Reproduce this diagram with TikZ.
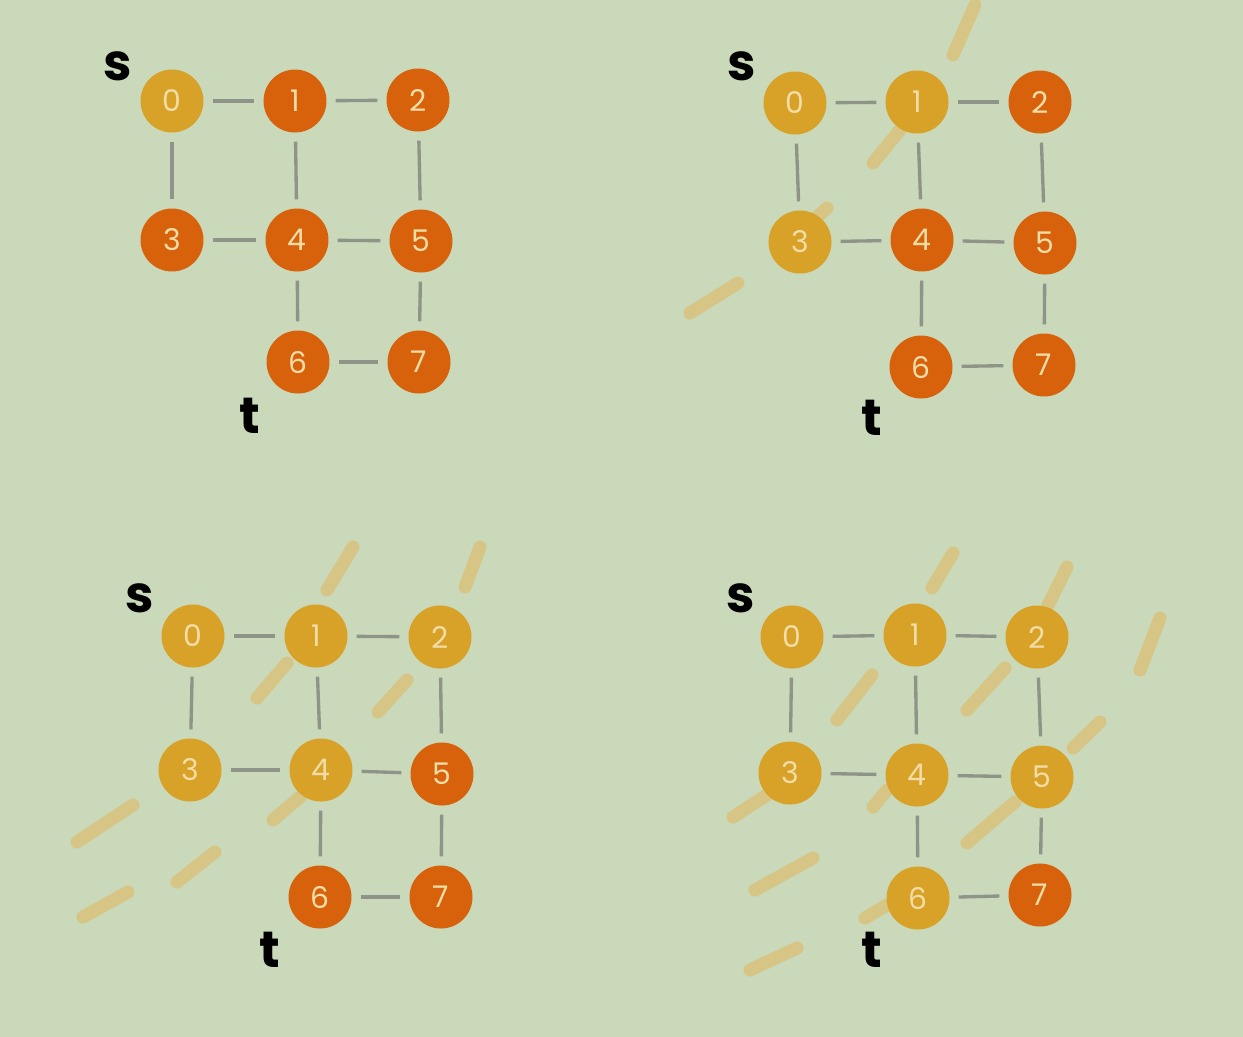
\documentclass[tikz,border=0pt]{standalone}
\usepackage{fontspec}
\setmainfont{Poppins}
\usetikzlibrary{positioning}

\definecolor{bgsage}{HTML}{C9D9BA}
\definecolor{visited}{HTML}{D8A128}
\definecolor{unvisited}{HTML}{D8620C}
\definecolor{digit}{HTML}{F2DDA6}
\definecolor{edgegray}{HTML}{8E9588}
\definecolor{brush}{HTML}{D6C584}

\tikzset{
  vert/.style={circle, minimum size=1.26cm, inner sep=0pt, text=digit, font=\fontsize{17}{17}\selectfont},
  seen/.style={vert, fill=visited},
  unseen/.style={vert, fill=unvisited},
  link/.style={draw=edgegray, line width=1.9pt, shorten >=5pt, shorten <=5pt},
  endlabel/.style={font=\fontsize{29}{29}\selectfont\bfseries, text=black},
  swash/.style={draw=brush, line width=0.26cm, line cap=round}
}

\begin{document}
\begin{tikzpicture}[x=0.02cm, y=-0.02cm]

\useasboundingbox (0,0) rectangle (1243,1036);
\fill[bgsage] (-5,-5) rectangle (1248,1041);

% brush marks
\draw [swash] (975,5) -- (953,55);
\draw [swash] (900,130) -- (873,163);
\draw [swash] (827,208) -- (817,217);
\draw [swash] (738,283) -- (690,313);
\draw [swash] (353,547) -- (327,590);
\draw [swash] (480,547) -- (465,587);
\draw [swash] (287,663) -- (257,698);
\draw [swash] (407,680) -- (378,712);
\draw [swash] (133,805) -- (77,842);
\draw [swash] (300,797) -- (273,820);
\draw [swash] (215,852) -- (177,882);
\draw [swash] (128,892) -- (83,917);
\draw [swash] (953,553) -- (932,588);
\draw [swash] (1067,567) -- (1048,605);
\draw [swash] (1160,618) -- (1140,670);
\draw [swash] (872,675) -- (837,720);
\draw [swash] (1005,668) -- (967,710);
\draw [swash] (1100,722) -- (1073,748);
\draw [swash] (770,793) -- (733,817);
\draw [swash] (887,790) -- (873,807);
\draw [swash] (1015,802) -- (967,843);
\draw [swash] (813,858) -- (755,890);
\draw [swash] (887,905) -- (865,918);
\draw [swash] (797,948) -- (750,970);

% step 1
\node [seen] (a0) at (172,101) {0};
\node [unseen] (a1) at (295,101) {1};
\node [unseen] (a2) at (418,100) {2};
\node [unseen] (a3) at (172,240) {3};
\node [unseen] (a4) at (297,240) {4};
\node [unseen] (a5) at (421,241) {5};
\node [unseen] (a6) at (298,362) {6};
\node [unseen] (a7) at (419,362) {7};
\node [endlabel] (as) at (118,66) {s};
\node [endlabel] (at) at (250,416) {t};

% step 2
\node [seen] (b0) at (795,103) {0};
\node [seen] (b1) at (917,102) {1};
\node [unseen] (b2) at (1040,102) {2};
\node [seen] (b3) at (800,242) {3};
\node [unseen] (b4) at (922,240) {4};
\node [unseen] (b5) at (1045,243) {5};
\node [unseen] (b6) at (921,367) {6};
\node [unseen] (b7) at (1044,365) {7};
\node [endlabel] (bs) at (742,66) {s};
\node [endlabel] (bt) at (872,418) {t};

% step 3
\node [seen] (c0) at (193,636) {0};
\node [seen] (c1) at (316,636) {1};
\node [seen] (c2) at (440,637) {2};
\node [seen] (c3) at (190,770) {3};
\node [seen] (c4) at (321,770) {4};
\node [unseen] (c5) at (442,774) {5};
\node [unseen] (c6) at (320,897) {6};
\node [unseen] (c7) at (441,897) {7};
\node [endlabel] (cs) at (140,598) {s};
\node [endlabel] (ct) at (270,950) {t};

% step 4
\node [seen] (d0) at (792,637) {0};
\node [seen] (d1) at (915,635) {1};
\node [seen] (d2) at (1037,637) {2};
\node [seen] (d3) at (790,773) {3};
\node [seen] (d4) at (917,775) {4};
\node [seen] (d5) at (1042,777) {5};
\node [seen] (d6) at (918,898) {6};
\node [unseen] (d7) at (1040,895) {7};
\node [endlabel] (ds) at (741,598) {s};
\node [endlabel] (dt) at (872,950) {t};

% edges
\draw [link] (a0) -- (a1);
\draw [link] (a1) -- (a2);
\draw [link] (a0) -- (a3);
\draw [link] (a1) -- (a4);
\draw [link] (a2) -- (a5);
\draw [link] (a3) -- (a4);
\draw [link] (a4) -- (a5);
\draw [link] (a4) -- (a6);
\draw [link] (a5) -- (a7);
\draw [link] (a6) -- (a7);
\draw [link] (b0) -- (b1);
\draw [link] (b1) -- (b2);
\draw [link] (b0) -- (b3);
\draw [link] (b1) -- (b4);
\draw [link] (b2) -- (b5);
\draw [link] (b3) -- (b4);
\draw [link] (b4) -- (b5);
\draw [link] (b4) -- (b6);
\draw [link] (b5) -- (b7);
\draw [link] (b6) -- (b7);
\draw [link] (c0) -- (c1);
\draw [link] (c1) -- (c2);
\draw [link] (c0) -- (c3);
\draw [link] (c1) -- (c4);
\draw [link] (c2) -- (c5);
\draw [link] (c3) -- (c4);
\draw [link] (c4) -- (c5);
\draw [link] (c4) -- (c6);
\draw [link] (c5) -- (c7);
\draw [link] (c6) -- (c7);
\draw [link] (d0) -- (d1);
\draw [link] (d1) -- (d2);
\draw [link] (d0) -- (d3);
\draw [link] (d1) -- (d4);
\draw [link] (d2) -- (d5);
\draw [link] (d3) -- (d4);
\draw [link] (d4) -- (d5);
\draw [link] (d4) -- (d6);
\draw [link] (d5) -- (d7);
\draw [link] (d6) -- (d7);
\end{tikzpicture}
\end{document}
